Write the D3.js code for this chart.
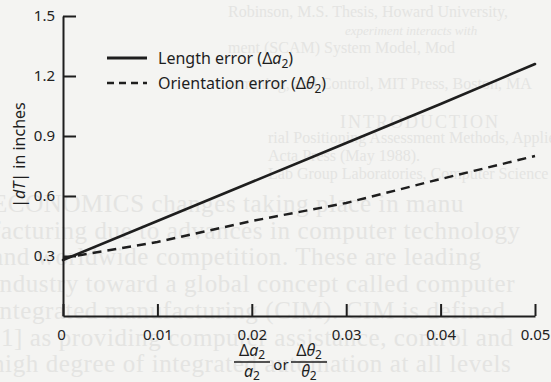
<!DOCTYPE html>
<html>
<head>
<meta charset="utf-8">
<script src="https://cdn.jsdelivr.net/npm/d3@7"></script>
<style>
  html, body { margin: 0; padding: 0; background: #f4f4f2; }
  svg { display: block; }
  .tick text { font-family: 'Noto Sans', sans-serif; fill: #222; }
</style>
</head>
<body>
<div id="chart"></div>
<script>
// data
const xTicks = [0, 0.01, 0.02, 0.03, 0.04, 0.05];
const yTicks = [0.3, 0.6, 0.9, 1.2, 1.5];
const ratio = [0, 0.01, 0.02, 0.03, 0.04, 0.05];
const lengthErr = [0.28, 0.475, 0.67, 0.865, 1.06, 1.26];
const orientErr = [0.29, 0.37, 0.475, 0.565, 0.685, 0.80];
const seriesNames = ['Length error', 'Orientation error'];

// faint show-through of the facing page
const bleedTop = [
  'Robinson, M.S. Thesis, Howard University,',
  'experiment interacts with',
  'ment (SCAM) System Model, Mod',
  '',
  'ramming, and Control, MIT Press, Boston, MA',
  '',
  '',
  'rial Positioning Assessment Methods, Applied',
  'Acta Press (May 1988).',
  'Lab Group Laboratories, Computer Science'
];
const bleedBody = [
  'ECONOMICS  changes taking place in manu',
  'facturing due to advances in computer technology',
  'and worldwide competition. These are leading',
  'industry toward a global concept called computer',
  'integrated manufacturing (CIM). CIM is defined',
  '[1] as providing computer assistance, control and',
  'high degree of integrated automation at all levels'
];

const W = 551, H = 382;
const margin = { top: 16, right: 16, bottom: 66, left: 63 };

const svg = d3.select('#chart').append('svg')
  .attr('width', W)
  .attr('height', H);

svg.append('rect').attr('width', W).attr('height', H).attr('fill', '#f4f4f2');

// Show-through
const bleed = svg.append('g').attr('fill', '#e4e4e2').attr('font-family', "'Liberation Serif', serif");
bleed.selectAll('text.top')
  .data(bleedTop)
  .enter()
  .append('text')
  .attr('class', 'top')
  .attr('x', (d, i) => i === 1 ? 345 : (i >= 7 ? 268 : 228))
  .attr('y', (d, i) => 17 + i * 18)
  .attr('font-size', (d, i) => i === 1 ? 13 : 16)
  .attr('font-style', (d, i) => i === 1 ? 'italic' : 'normal')
  .text(d => d);
bleed.append('text')
  .attr('x', 420).attr('y', 128)
  .attr('text-anchor', 'middle')
  .attr('font-size', 18)
  .attr('letter-spacing', 2)
  .text('INTRODUCTION');
bleed.selectAll('text.body')
  .data(bleedBody)
  .enter()
  .append('text')
  .attr('class', 'body')
  .attr('x', -8)
  .attr('y', (d, i) => 212 + i * 26.7)
  .attr('font-size', 25)
  .attr('letter-spacing', 0.6)
  .text(d => d);

// Scales
const x = d3.scaleLinear().domain([0, 0.05]).range([margin.left, W - margin.right]);
const y = d3.scaleLinear().domain([0, 1.5]).range([H - margin.bottom, margin.top]);

const ink = '#1e1e1e';

// Axes
const xAxis = d3.axisBottom(x)
  .tickValues(xTicks)
  .tickSize(-12)
  .tickSizeOuter(0)
  .tickPadding(10)
  .tickFormat(d => d === 0 ? '0' : d3.format('.2f')(d));
const yAxis = d3.axisLeft(y)
  .tickValues(yTicks)
  .tickSize(-13)
  .tickSizeOuter(0)
  .tickPadding(8)
  .tickFormat(d3.format('.1f'));

const gx = svg.append('g')
  .attr('transform', 'translate(0,' + y(0) + ')')
  .call(xAxis);
const gy = svg.append('g')
  .attr('transform', 'translate(' + x(0) + ',0)')
  .call(yAxis);
[gx, gy].forEach(g => {
  g.select('.domain').attr('stroke', ink).attr('stroke-width', 2);
  g.selectAll('.tick line').attr('stroke', ink).attr('stroke-width', 2);
  g.selectAll('.tick text').attr('font-size', 15).attr('fill', ink);
});
gx.selectAll('.tick text').attr('dy', '0.9em');
gx.selectAll('.tick').filter(d => d === 0).select('text').attr('dx', -2);

// Lines
const pts = vals => ratio.map((r, i) => [r, vals[i]]);
const line = d3.line().x(d => x(d[0])).y(d => y(d[1]));

svg.append('path')
  .datum(pts(lengthErr))
  .attr('d', line)
  .attr('fill', 'none')
  .attr('stroke', ink)
  .attr('stroke-width', 2.6)
  .attr('stroke-linecap', 'round');
svg.append('path')
  .datum(pts(orientErr))
  .attr('d', line)
  .attr('fill', 'none')
  .attr('stroke', ink)
  .attr('stroke-width', 2.4)
  .attr('stroke-dasharray', '9,6');

// Legend
const legend = svg.append('g')
  .attr('font-family', "'Noto Sans', sans-serif")
  .attr('font-size', 16)
  .attr('fill', ink);
const legendRows = legend.selectAll('g')
  .data(seriesNames)
  .enter()
  .append('g')
  .attr('transform', (d, i) => 'translate(107,' + (58 + i * 25) + ')');
legendRows.append('line')
  .attr('x1', 0).attr('x2', 40)
  .attr('stroke', ink)
  .attr('stroke-width', (d, i) => i ? 2.4 : 2.8)
  .attr('stroke-dasharray', (d, i) => i ? '7,5' : null);
const lt = legendRows.append('text')
  .attr('x', 51)
  .attr('dy', '0.35em')
  .text(d => d + ' (Δ');
lt.append('tspan')
  .attr('font-style', 'italic')
  .text((d, i) => i ? 'θ' : 'a');
lt.append('tspan')
  .attr('font-size', 12)
  .attr('dy', 4)
  .text('2');
lt.append('tspan')
  .attr('dy', -4)
  .text(')');

// Y label
svg.append('text')
  .attr('transform', 'translate(25,' + y(0.805) + ') rotate(-90)')
  .attr('text-anchor', 'middle')
  .attr('font-family', "'Noto Sans', sans-serif")
  .attr('font-size', 16)
  .attr('fill', ink)
  .html('|<tspan font-style="italic">dT</tspan>| in inches');

// X label: two fractions
const xl = svg.append('g')
  .attr('font-family', "'Noto Sans', sans-serif")
  .attr('fill', ink);
const fracs = [{ sym: 'a', cx: 252 }, { sym: 'θ', cx: 309 }];
fracs.forEach(f => {
  const g = xl.append('g').attr('transform', 'translate(' + f.cx + ',0)');
  const num = g.append('text').attr('y', 356).attr('text-anchor', 'middle').attr('font-size', 16);
  num.append('tspan').text('Δ');
  num.append('tspan').attr('font-style', 'italic').text(f.sym);
  num.append('tspan').attr('font-size', 12).attr('dy', 3).text('2');
  g.append('line')
    .attr('x1', -18).attr('x2', 18)
    .attr('y1', 362).attr('y2', 362)
    .attr('stroke', ink).attr('stroke-width', 1.6);
  const den = g.append('text').attr('y', 377).attr('text-anchor', 'middle').attr('font-size', 16);
  den.append('tspan').attr('font-style', 'italic').text(f.sym);
  den.append('tspan').attr('font-size', 12).attr('dy', 3).text('2');
});
xl.append('text')
  .attr('x', 281).attr('y', 370)
  .attr('text-anchor', 'middle')
  .attr('font-size', 15)
  .text('or');
</script>
</body>
</html>
